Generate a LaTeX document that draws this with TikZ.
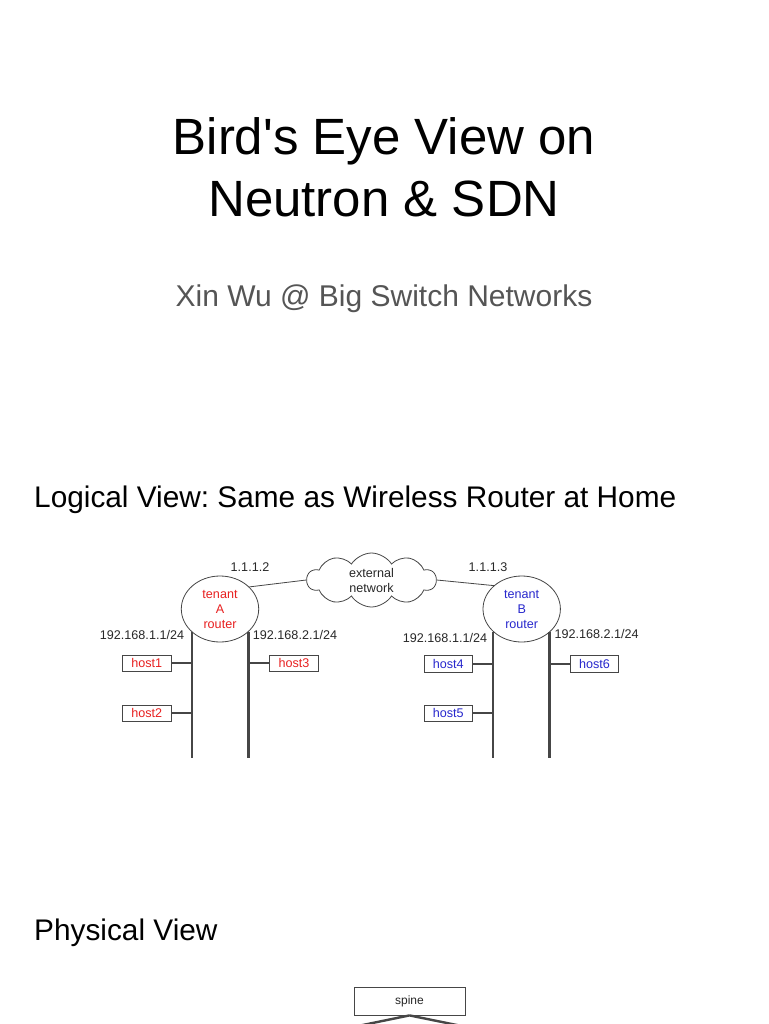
\documentclass[tikz,border=0pt]{standalone}
\usepackage{fontspec}
\setmainfont{Liberation Sans}
\usetikzlibrary{shapes.symbols,shapes.geometric}
\frenchspacing
\definecolor{tred}{RGB}{232,32,32}
\definecolor{tblue}{RGB}{40,40,205}
\definecolor{subgray}{RGB}{85,85,85}
\definecolor{linegray}{RGB}{70,70,70}
\definecolor{labgray}{RGB}{40,40,40}
\begin{document}
\begin{tikzpicture}[x=1pt,y=-1pt,
  title/.style={font=\fontsize{51}{62}\selectfont, anchor=base, inner sep=0},
  heading/.style={font=\fontsize{29.8}{35}\selectfont, anchor=base west, inner sep=0},
  small/.style={font=\fontsize{12.6}{15}\selectfont, inner sep=0, text=labgray},
  router/.style={ellipse, draw=linegray, line width=0.8pt, minimum width=77.4pt, minimum height=66pt, inner sep=0, align=center, font=\fontsize{12.6}{15}\selectfont},
  hostbox/.style={draw=linegray, line width=0.8pt, minimum width=48.7pt, minimum height=16.7pt, inner sep=0, font=\fontsize{12.6}{15}\selectfont},
  bus/.style={draw=linegray, line width=2.4pt},
  stub/.style={draw=linegray, line width=2pt},
  thin/.style={draw=linegray, line width=0.8pt}
]
\useasboundingbox (0,0) rectangle (768,1024);
\fill[white] (0,0) rectangle (768,1024);
\clip (0,0) rectangle (768,1024);

% titles
\node[title] (t1) at (384,155) {Bird\textquotesingle s Eye View on};
\node[title] (t2) at (384,217) {Neutron \& SDN};
\node[font=\fontsize{30}{36}\selectfont, anchor=base, inner sep=0, text=subgray] (sub) at (384,306) {Xin Wu @ Big Switch Networks};
\node[heading] (lv) at (34,507) {Logical View: Same as Wireless Router at Home};
\node[heading] (pv) at (34,940) {Physical View};

% cloud
\node[cloud, draw=linegray, line width=0.8pt, cloud puffs=10, cloud puff arc=115, aspect=2.6,
      minimum width=129pt, minimum height=54pt, inner sep=0, align=center,
      font=\fontsize{12.6}{15}\selectfont, text=labgray] (ext) at (371.5,580) {external\\network};

% routers
\node[router, text=tred] (rA) at (220,609) {tenant\\A\\router};
\node[router, text=tblue] (rB) at (521.7,609) {tenant\\B\\router};

\node[small] (ipA) at (250,567) {1.1.1.2};
\node[small] (ipB) at (488,567) {1.1.1.3};

\draw[thin] (rA.37.8) -- (ext.west);
\draw[thin] (ext.east) -- (rB.140.6);

% subnet labels
\node[small] (nA1) at (142,635) {192.168.1.1/24};
\node[small] (nA2) at (295,635) {192.168.2.1/24};
\node[small] (nB1) at (445,638) {192.168.1.1/24};
\node[small] (nB2) at (596.7,634) {192.168.2.1/24};

% bus end coordinates
\coordinate (aL) at (191.7,758);
\coordinate (aR) at (248.3,758);
\coordinate (bL) at (492.7,758);
\coordinate (bR) at (549.3,758);

\draw[bus] (rA.-141.5 -| aL) -- (aL);
\draw[bus] (rA.-38.5 -| aR) -- (aR);
\draw[bus] (rB.-141.5 -| bL) -- (bL);
\draw[bus] (rB.-38.5 -| bR) -- (bR);

% hosts
\node[hostbox, text=tred] (h1) at (146.7,663.3) {host1};
\node[hostbox, text=tred] (h2) at (146.7,713.3) {host2};
\node[hostbox, text=tred] (h3) at (294,663.3) {host3};
\node[hostbox, text=tblue] (h4) at (448.3,664) {host4};
\node[hostbox, text=tblue] (h5) at (448.3,713.3) {host5};
\node[hostbox, text=tblue] (h6) at (594.5,664) {host6};

\draw[stub] (h1.east) -- (h1.east -| aL);
\draw[stub] (h2.east) -- (h2.east -| aL);
\draw[stub] (h3.west) -- (h3.west -| aR);
\draw[stub] (h4.east) -- (h4.east -| bL);
\draw[stub] (h5.east) -- (h5.east -| bL);
\draw[stub] (h6.west) -- (h6.west -| bR);

% physical view
\node[draw=linegray, line width=0.8pt, minimum width=111pt, minimum height=28pt, inner sep=0,
      font=\fontsize{12}{14}\selectfont, text=labgray] (spine) at (409.5,1001) {spine};
\coordinate (sl) at (314,1035);
\coordinate (sr) at (506,1035);
\draw[bus] (spine.south) -- (sl);
\draw[bus] (spine.south) -- (sr);
\end{tikzpicture}
\end{document}
